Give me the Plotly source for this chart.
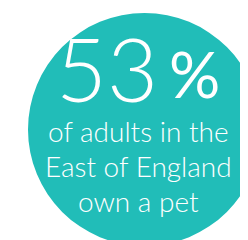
import plotly.graph_objects as go

percent_value = [53]
caption_lines = ["of adults in the", "East of England", "own a pet"]
circle_color = "#21BDB8"

fig = go.Figure()
fig.add_trace(go.Scatter(x=[0], y=[0], mode="markers", marker=dict(opacity=0), hoverinfo="skip", showlegend=False))

fig.add_shape(type="circle", xref="x", yref="y", x0=20, x1=253, y0=5, y1=238,
              fillcolor=circle_color, line=dict(width=0), layer="below")

font = "Lato"
fig.add_annotation(x=99, y=60, xref="x", yref="y", text=str(percent_value[0]), showarrow=False,
                   font=dict(family=font, size=88, color="white", weight=300), xanchor="center", yanchor="middle")
fig.add_annotation(x=186, y=65, xref="x", yref="y", text="%", showarrow=False,
                   font=dict(family=font, size=64, color="white", weight=400), xanchor="center", yanchor="middle")
ys = [123, 158, 192.5]
for line, yy in zip(caption_lines, ys):
    fig.add_annotation(x=130, y=yy, xref="x", yref="y", text=line, showarrow=False,
                       font=dict(family=font, size=28, color="white", weight=300), xanchor="center", yanchor="middle")

fig.update_layout(width=248, height=240, margin=dict(l=0, r=0, t=0, b=0),
                  paper_bgcolor="white", plot_bgcolor="white",
                  xaxis=dict(range=[0, 248], visible=False, fixedrange=True),
                  yaxis=dict(range=[240, 0], visible=False, fixedrange=True))
fig.write_html("out.html", config={"displayModeBar": False})
